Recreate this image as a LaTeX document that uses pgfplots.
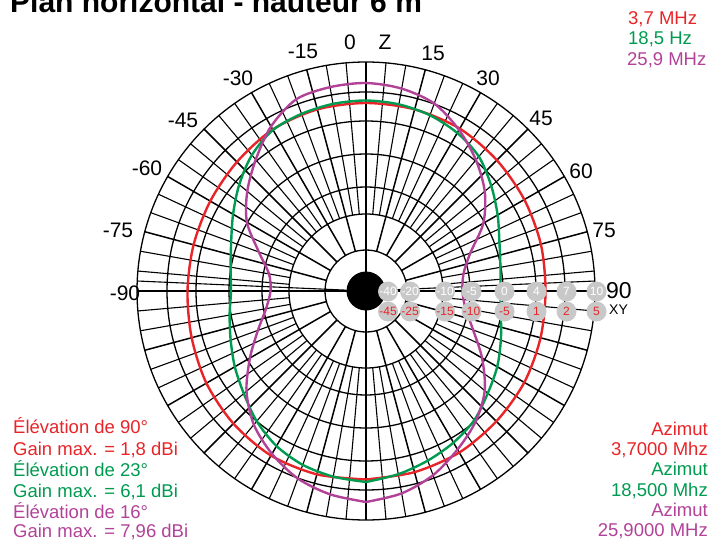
\documentclass[border=0pt]{standalone}
\usepackage{pgfplots}
\pgfplotsset{compat=1.18}
\usepackage{fontspec}
\setmainfont{Liberation Sans}
\definecolor{cred}{RGB}{232,36,40}
\definecolor{cgreen}{RGB}{0,155,80}
\definecolor{cpurple}{RGB}{178,66,152}
\definecolor{cgrey}{RGB}{200,200,200}
\newcommand{\fs}[1]{\fontsize{#1}{#1}\selectfont}
\newcommand{\sclab}[3]{%
  \fill[cgrey] (axis cs:#1,291.5) circle[radius=10pt];
  \node[text=white, font=\fs{12}, inner sep=0pt] at (axis cs:#1,291.5) {#2};
  \fill[cgrey] (axis cs:#1,311.5) circle[radius=10pt];
  \node[text=cred, font=\fs{12}, inner sep=0pt] at (axis cs:#1,311.5) {#3};}
\newcommand{\anglab}[3]{\node[font=\fs{21}, inner sep=0pt] at (axis cs:#1,#2) {#3};}
\begin{document}
\begin{tikzpicture}
\begin{axis}[x=1pt, y=1pt, y dir=reverse, xmin=0, xmax=711, ymin=0, ymax=540,
  hide axis, clip=false, scale only axis]
\coordinate (TL) at (axis cs:0,0);
\coordinate (BR) at (axis cs:711,540);
% grid circles
\pgfplotsinvokeforeach{41,77,104,137,170,199,229}{
  \draw[line width=1.3pt] (axis cs:366,291) circle[radius=#1pt];
}
% major radial lines
\pgfplotsinvokeforeach{0,15,...,345}{
  \draw[line width=1.5pt] (axis cs:{366+41*sin(#1)},{291-41*cos(#1)}) -- (axis cs:{366+229*sin(#1)},{291-229*cos(#1)});
}
% minor radial lines
\pgfplotsinvokeforeach{5,10,20,25,35,40,50,55,65,70,80,85,95,100,110,115,125,130,140,145,155,160,170,175,185,190,200,205,215,220,230,235,245,250,260,265,275,280,290,295,305,310,320,325,335,340,350,355}{
  \draw[line width=1.1pt] (axis cs:{366+77*sin(#1)},{291-77*cos(#1)}) -- (axis cs:{366+229*sin(#1)},{291-229*cos(#1)});
}
% near-horizon extra lines
\pgfplotsinvokeforeach{87.5,272.5}{
  \draw[line width=1.1pt] (axis cs:{366+20*sin(#1)},{291-20*cos(#1)}) -- (axis cs:{366+229*sin(#1)},{291-229*cos(#1)});
}
% axes through center
\draw[line width=1.5pt] (axis cs:366,62) -- (axis cs:366,520);
\draw[line width=1.5pt] (axis cs:137,291) -- (axis cs:595,291);
\fill[black] (axis cs:366,291) circle[radius=19.5pt];

% curves
\addplot[cred, line width=2.4pt, smooth] table[x expr={366+\thisrow{r}*sin(\thisrow{a})}, y expr={291-\thisrow{r}*cos(\thisrow{a})}] {
a r
-180 188.5
-165 189.8
-150 190
-135 187.5
-120 184.3
-105 180.5
-90 178.5
-75 178.5
-60 179.8
-45 182.5
-30 186.5
-15 188
0 188
15 188
30 187.5
45 185
60 182.8
75 181
90 179.5
105 180.7
120 182.8
135 184.3
150 186.5
165 187.5
180 188.5
};
\addplot[cgreen, line width=2.4pt, smooth] table[x expr={366+\thisrow{r}*sin(\thisrow{a})}, y expr={291-\thisrow{r}*cos(\thisrow{a})}] {
a r
-180 191
-170 188.5
-160 185
-150 179
-140 170
-130 159.5
-120 151.5
-110 144
-100 138.5
-90 135
-80 137.5
-70 143.5
-60 153.5
-50 165.5
-40 177.5
-30 186
-20 188.5
-10 190
0 190.5
10 189.5
20 187
30 182.5
40 175.5
50 163.5
60 152
70 142
80 136.5
90 134.5
100 137
110 143.5
120 151.5
130 159
140 168.5
150 175
160 180.5
170 186
180 191
};
\addplot[cpurple, line width=2.4pt, smooth] table[x expr={366+\thisrow{r}*sin(\thisrow{a})}, y expr={291-\thisrow{r}*cos(\thisrow{a})}] {
a r
-180 211
-170 206.5
-160 199.5
-150 188
-140 174.5
-130 156
-120 134
-110 115
-100 101.5
-90 95.5
-80 98.5
-70 114
-60 137.5
-50 155
-40 171.5
-30 190
-20 204
-10 207
0 208
10 205.5
20 199.5
30 186
40 171
50 155
60 135.5
70 111
80 99
90 96.5
100 101
110 114
120 134
130 155
140 170.5
150 183
160 196
170 205.5
180 211
};

% scale labels
\sclab{388}{-40}{-45}
\sclab{410}{-20}{-25}
\sclab{445}{-10}{-15}
\sclab{471.5}{-5}{-10}
\sclab{504.5}{0}{-5}
\sclab{536.5}{4}{1}
\sclab{566.5}{7}{2}
\sclab{596.5}{10}{5}
% angle labels
\anglab{350}{42}{0}
\anglab{385}{42}{Z}
\anglab{303}{51}{-15}
\anglab{433}{53}{15}
\anglab{238}{78}{-30}
\anglab{488}{78}{30}
\anglab{183}{120}{-45}
\anglab{541}{118}{45}
\anglab{147}{168}{-60}
\anglab{581}{171}{60}
\anglab{118}{230}{-75}
\anglab{604}{230}{75}
\anglab{125}{293}{-90}
\node[font=\fs{23}, inner sep=0pt, anchor=west] at (axis cs:606,291) {90};
\node[font=\fs{14}, inner sep=0pt, anchor=west] at (axis cs:609,310) {XY};

% title
\node[anchor=base west, font=\bfseries\fs{30}, inner sep=0pt] at (axis cs:10,13) {Plan horizontal - hauteur 6 m};
% top right legend
\node[anchor=base west, font=\fs{18.5}, inner sep=0pt, text=cred] at (axis cs:628,24.5) {3,7 MHz};
\node[anchor=base west, font=\fs{18.5}, inner sep=0pt, text=cgreen] at (axis cs:628,45) {18,5 Hz};
\node[anchor=base west, font=\fs{18.5}, inner sep=0pt, text=cpurple] at (axis cs:627,65.5) {25,9 MHz};
% bottom left
\node[anchor=base west, font=\fs{18.5}, inner sep=0pt, text=cred] at (axis cs:13,433) {Élévation de 90°};
\node[anchor=base west, font=\fs{18.5}, inner sep=0pt, text=cred] at (axis cs:13,455) {Gain max. = 1,8 dBi};
\node[anchor=base west, font=\fs{18.5}, inner sep=0pt, text=cgreen] at (axis cs:13,476) {Élévation de 23°};
\node[anchor=base west, font=\fs{18.5}, inner sep=0pt, text=cgreen] at (axis cs:13,497) {Gain max. = 6,1 dBi};
\node[anchor=base west, font=\fs{18.5}, inner sep=0pt, text=cpurple] at (axis cs:13,518) {Élévation de 16°};
\node[anchor=base west, font=\fs{18.5}, inner sep=0pt, text=cpurple] at (axis cs:13,537.5) {Gain max. = 7,96 dBi};
% bottom right
\node[anchor=base east, font=\fs{18.5}, inner sep=0pt, text=cred] at (axis cs:708,435) {Azimut};
\node[anchor=base east, font=\fs{18.5}, inner sep=0pt, text=cred] at (axis cs:708,455) {3,7000 Mhz};
\node[anchor=base east, font=\fs{18.5}, inner sep=0pt, text=cgreen] at (axis cs:708,475) {Azimut};
\node[anchor=base east, font=\fs{18.5}, inner sep=0pt, text=cgreen] at (axis cs:708,496.5) {18,500 Mhz};
\node[anchor=base east, font=\fs{18.5}, inner sep=0pt, text=cpurple] at (axis cs:708,516.5) {Azimut};
\node[anchor=base east, font=\fs{18.5}, inner sep=0pt, text=cpurple] at (axis cs:708,536.5) {25,9000 MHz};
\end{axis}
\pgfresetboundingbox
\useasboundingbox (TL) rectangle (BR);
\end{tikzpicture}
\end{document}
